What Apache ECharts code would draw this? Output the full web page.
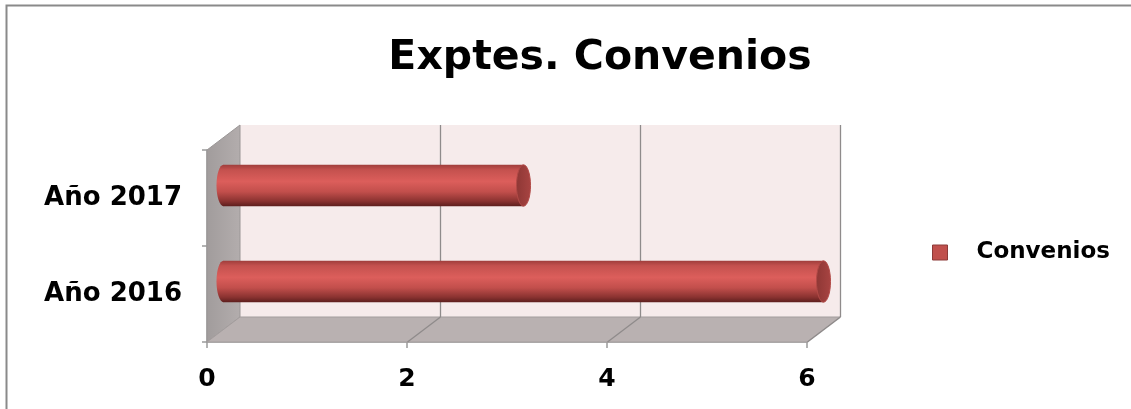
<!DOCTYPE html>
<html>
<head>
<meta charset="utf-8">
<script src="https://cdn.jsdelivr.net/npm/echarts@6/dist/echarts.min.js"></script>
<style>html,body{margin:0;padding:0;background:#fff}#c{width:1131px;height:409px}</style>
</head>
<body>
<div id="c"></div>
<script>
const categories = ['Año 2016', 'Año 2017'];
const convenios = [6, 3];
const xTicks = [0, 2, 4, 6];
const seriesName = 'Convenios';
const titleText = 'Exptes. Convenios';

const FONT = '"DejaVu Sans", sans-serif';
const DX = 33, DY = -25;

const chart = echarts.init(document.getElementById('c'), null, {renderer: 'canvas'});

function renderFrame(params, api) {
  const cs = params.coordSys;
  const x0 = cs.x, y0 = cs.y, w = cs.width, h = cs.height;
  const yb = y0 + h;
  const children = [];
  children.push({type: 'polygon', shape: {points: [[x0 + DX, y0 + DY], [x0 + w + DX, y0 + DY], [x0 + w + DX, yb + DY], [x0 + DX, yb + DY]]},
    style: {fill: '#f6ebeb'}});
  children.push({type: 'polygon', shape: {points: [[x0, y0], [x0 + DX, y0 + DY], [x0 + DX, yb + DY], [x0, yb]]},
    style: {fill: new echarts.graphic.LinearGradient(0, 0, 1, 0, [{offset: 0, color: '#a19c9c'}, {offset: 1, color: '#b3adad'}]), stroke: '#9a9696', lineWidth: 1}});
  children.push({type: 'polygon', shape: {points: [[x0, yb], [x0 + DX, yb + DY], [x0 + w + DX, yb + DY], [x0 + w, yb]]},
    style: {fill: '#b9b1b1', stroke: '#a39d9d', lineWidth: 1}});
  xTicks.forEach(function (v) {
    const p = api.coord([v, 0]);
    const px = Math.round(p[0]) + 0.5;
    if (v > 0) {
      children.push({type: 'line', shape: {x1: px + DX, y1: y0 + DY, x2: px + DX, y2: yb + DY}, style: {stroke: '#8f8b8b', lineWidth: 1.3}});
      children.push({type: 'line', shape: {x1: px, y1: yb, x2: px + DX, y2: yb + DY}, style: {stroke: '#8f8b8b', lineWidth: 1.3}});
    }
  });
  return {type: 'group', children: children, silent: true};
}

function renderBar(params, api) {
  const cat = api.value(1);
  const val = api.value(0);
  const s = api.coord([0, cat]);
  const e = api.coord([val, cat]);
  const band = api.size([0, 1])[1];
  const th = band * 0.43;
  const ox = DX / 2, oy = DY / 2;
  const cy = s[1] + oy;
  const xs = s[0] + ox, xe = e[0] + ox;
  const rx = 7;
  const grad = new echarts.graphic.LinearGradient(0, 0, 0, 1, [
    {offset: 0, color: '#a03e3c'},
    {offset: 0.12, color: '#c4514e'},
    {offset: 0.4, color: '#dc5e5b'},
    {offset: 0.65, color: '#c24f4c'},
    {offset: 0.88, color: '#8a3230'},
    {offset: 1, color: '#5e1f1e'}
  ]);
  return {type: 'group', children: [
    {type: 'ellipse', shape: {cx: xs, cy: cy, rx: rx, ry: th / 2}, style: {fill: grad}},
    {type: 'rect', shape: {x: xs, y: cy - th / 2, width: xe - xs, height: th}, style: {fill: grad}},
    {type: 'ellipse', shape: {cx: xe, cy: cy, rx: rx, ry: th / 2},
      style: {fill: new echarts.graphic.LinearGradient(0, 0, 1, 0, [{offset: 0, color: '#8e3735'}, {offset: 1, color: '#a84442'}]), stroke: '#b24a47', lineWidth: 1}}
  ]};
}

chart.setOption({
  animation: false,
  backgroundColor: '#ffffff',
  title: {
    text: titleText, left: 595, top: 33, textAlign: 'center',
    textStyle: {fontFamily: FONT, fontWeight: 'bold', fontSize: 41, color: '#000'}
  },
  legend: {
    data: [{name: seriesName, icon: 'rect', itemStyle: {color: '#c0504d', borderColor: '#8c3a38', borderWidth: 1}}],
    left: 927, top: 236, itemWidth: 15, itemHeight: 15,
    textStyle: {fontFamily: FONT, fontWeight: 'bold', fontSize: 23, color: '#000', padding: [0, 0, 0, 24]}
  },
  grid: {left: 207, right: 324, top: 150, bottom: 67, containLabel: false},
  xAxis: {
    type: 'value', min: 0, max: 6, interval: 2,
    axisLine: {show: true, lineStyle: {color: '#9a9a9a', width: 1.5}},
    axisTick: {show: true, length: 6, lineStyle: {color: '#9a9a9a', width: 1.5}},
    splitLine: {show: false},
    axisLabel: {margin: 25, fontFamily: FONT, fontWeight: 'bold', fontSize: 25, color: '#000'}
  },
  yAxis: {
    type: 'category', data: categories,
    axisLine: {show: true, lineStyle: {color: '#9a9a9a', width: 1.5}},
    axisTick: {show: true, length: 5, lineStyle: {color: '#9a9a9a', width: 1.5}},
    axisLabel: {margin: 25, fontFamily: FONT, fontWeight: 'bold', fontSize: 26, color: '#000'},
    splitLine: {show: false}
  },
  graphic: [{type: 'rect', shape: {x: 6.5, y: 5.5, width: 1200, height: 500}, style: {fill: 'none', stroke: '#8a8a8a', lineWidth: 2}, silent: true, z: 100}],
  series: [
    {type: 'custom', name: '_frame', renderItem: renderFrame, data: [[0, 0]], z: 1, silent: true, tooltip: {show: false}},
    {type: 'custom', name: seriesName, renderItem: renderBar, itemStyle: {color: '#c0504d'},
      data: convenios.map(function (v, i) { return [v, i]; }), encode: {x: 0, y: 1}, z: 3}
  ]
});
</script>
</body>
</html>
